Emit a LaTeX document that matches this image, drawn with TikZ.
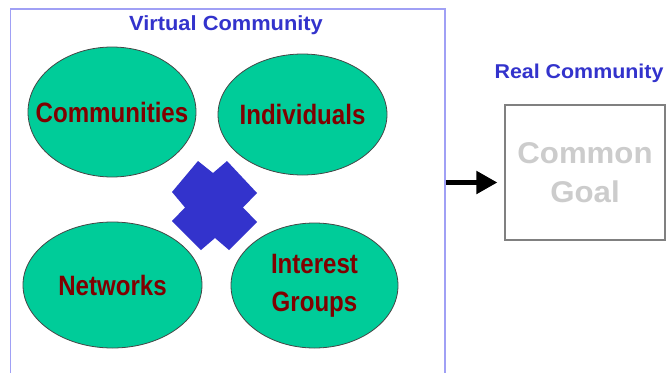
\documentclass[tikz,border=0pt]{standalone}
\usepackage{fontspec}
\usetikzlibrary{shapes.geometric,arrows.meta}
\newfontfamily\ellfont[FakeStretch=0.86]{Liberation Sans Bold}
\newfontfamily\vtitlefont[FakeStretch=1.065]{Liberation Sans Bold}
\newfontfamily\rtitlefont[FakeStretch=1.07]{Liberation Sans Bold}
\newfontfamily\goalfont[FakeStretch=1.04]{Liberation Sans Bold}
\definecolor{teal}{RGB}{0,204,153}
\definecolor{ellborder}{RGB}{70,70,70}
\definecolor{darkred}{RGB}{128,0,0}
\definecolor{titleblue}{RGB}{51,51,204}
\definecolor{boxblue}{RGB}{160,160,245}
\definecolor{crossblue}{RGB}{51,51,204}
\definecolor{goalgray}{RGB}{204,204,204}
\definecolor{goalborder}{RGB}{128,128,128}
\newcommand{\zw}[1]{\makebox[0pt][c]{#1}}
\tikzset{
  ell/.style={ellipse, fill=teal, draw=ellborder, line width=0.8pt, inner sep=0pt,
    text=darkred, font=\ellfont\fontsize{28}{38}\selectfont, align=center},
  title/.style={text=titleblue, inner sep=0pt},
  outerbox/.style={draw=boxblue, line width=1.5pt, inner sep=0pt},
  goalbox/.style={draw=goalborder, line width=1.2pt, inner sep=0pt, text=goalgray,
    font=\goalfont\fontsize{30}{39}\selectfont, align=center},
  bigarrow/.style={line width=5pt, -{Triangle[length=21pt,width=22pt]}}
}
\begin{document}
\begin{tikzpicture}[x=1pt,y=-1pt]
\useasboundingbox (0,0) rectangle (666,372);
\clip (0,0) rectangle (666,372);
\fill[white] (0,0) rectangle (666,372);
% outer box
\node[outerbox, minimum width=434.5pt, minimum height=371pt] (vbox) at (227.75,194.5) {};
\node[title, font=\vtitlefont\fontsize{20.5}{24}\selectfont] (vtitle) at (226,25.5) {Virtual Community};
% ellipses
\node[ell, minimum width=168pt, minimum height=130pt] (comm) at (112,112) {\zw{Communities}};
\node[ell, minimum width=169pt, minimum height=121pt] (indiv) at (302.5,114.5) {\zw{Individuals}};
\node[ell, minimum width=179pt, minimum height=126pt] (netw) at (112.5,285) {\zw{Networks}};
\node[ell, minimum width=167pt, minimum height=125pt] (intg) at (314.5,285.5) {\zw{Interest}\\\zw{Groups}};
% cross
\fill[crossblue] (198,161) -- (213,173) -- (227,161) -- (257,193) -- (243,207.5) -- (257,222)
  -- (229,250) -- (215,238) -- (201,250) -- (172,221) -- (185,207.5) -- (172,192) -- cycle;
% real community
\node[title, font=\rtitlefont\fontsize{20}{24}\selectfont] (rtitle) at (579,73) {Real Community};
\node[goalbox, minimum width=160pt, minimum height=135pt] (goal) at (585,172.5) {Common\\Goal};
% arrow
\coordinate (tipend) at ([yshift=-10pt,xshift=-7pt]goal.west);
\coordinate (tail) at (vbox.east |- tipend);
\draw[bigarrow] (tail) -- (tipend);
\end{tikzpicture}
\end{document}
